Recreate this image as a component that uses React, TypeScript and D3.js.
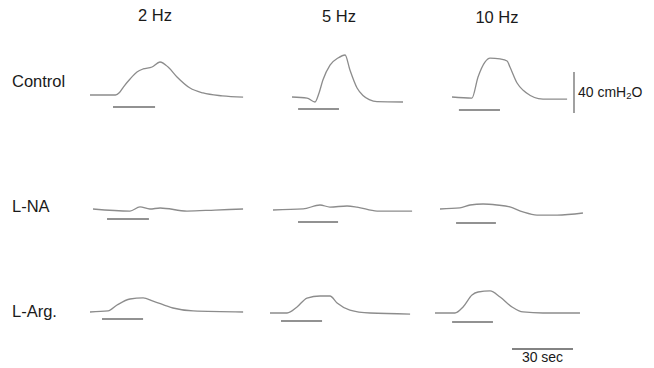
import * as d3 from "d3";

type Pt = [number, number]; // [seconds, cmH2O above baseline]

const frequencies = ["2 Hz", "5 Hz", "10 Hz"];
const conditions = ["Control", "L-NA", "L-Arg."];

// pressure traces
const control2: Pt[] = [[0, 0], [12.5, 0], [14.5, 2.5], [16.5, 8], [19.7, 15.6], [23.1, 22.4], [26.1, 25.4], [30.5, 27.3], [34.4, 32.2], [38.4, 27.3], [42.8, 17.6], [49.2, 6.8], [55.6, 2], [65, -0.8], [75.3, -2]];
const control5: Pt[] = [[0, 0], [7.4, -1], [11.3, -4.9], [13.3, 3.9], [15.2, 16.6], [18.7, 31.2], [22.6, 38], [26.1, 41], [28.5, 26.3], [32, 8.8], [34.9, 1.5], [38, -2.5], [41.8, -4.6], [54.6, -4.9]];
const control10: Pt[] = [[0, 0], [9.8, -1], [12.8, 19.5], [16.2, 34.1], [18.7, 38], [23.6, 37.1], [27.1, 35.1], [28.5, 29.3], [32, 13.7], [35, 6.5], [38.5, 1.5], [42.5, -1.5], [47, -2], [56.6, -2]];
const lna2: Pt[] = [[0, 0], [18.2, -2], [23.1, 2], [28, 0], [33, 1], [46.2, -2], [60, -1], [73.8, 0]];
const lna5: Pt[] = [[0, 0], [14.8, 1], [23.1, 4.9], [28, 2.9], [36.4, 3.9], [41.3, 2.9], [51.2, -1], [68.4, -1]];
const lna10: Pt[] = [[0, 0], [9.8, 1], [14.8, 3.9], [21.2, 4.9], [28, 3.9], [34.4, 2], [40.8, -2.9], [47.7, -5.9], [57.6, -5.9], [70.3, -3.9]];
const larg2: Pt[] = [[0, 0], [8.9, 1], [13.3, 6.8], [19.7, 12.7], [26.1, 13.7], [31, 10.7], [40.8, 3.9], [50.7, 1], [75.3, 0]];
const larg5: Pt[] = [[0, 0], [8.4, 0], [13.3, 5.9], [18.2, 14.6], [24.6, 16.6], [29.5, 16.6], [33, 9.8], [39.3, 2.9], [49.2, 0], [68.9, -1]];
const larg10: Pt[] = [[0, 0], [9.8, 0], [13.8, 5.9], [18.2, 17.6], [21.2, 20.5], [27.1, 21.5], [32, 15.6], [37.9, 5.9], [43.3, 1], [53.1, 0], [71.3, 0]];

// stimulation periods [start, end] in seconds
const controlStim: Pt[] = [[11.3, 32], [3, 23.1], [3.4, 23.6]];
const lnaStim: Pt[] = [[6.9, 27.5], [12.3, 32], [7.9, 27.5]];
const largStim: Pt[] = [[5.9, 26.1], [5.4, 25.6], [8.4, 28.5]];

const traces = [
  [control2, control5, control10],
  [lna2, lna5, lna10],
  [larg2, larg5, larg10],
];
const stims = [controlStim, lnaStim, largStim];

const TIME_BAR = 30; // sec
const PRESSURE_BAR = 40; // cmH2O

// layout
const PX_PER_SEC = 61 / 30;
const PX_PER_CM = 41 / 40;
const colX = [[90, 292, 452], [93, 273, 440], [90, 270, 435]];
const rowBase = [[95, 97, 97], [209, 210, 209], [312, 313, 313]];
const stimDrop = [[12, 12, 13], [10, 12, 14], [7, 8, 9]];
const rowLabelY = [83, 208, 313];
const colLabelX = [155, 339, 497];
const colLabelY = [17, 18, 19];

function xScaleFor(x0: number) {
  return d3.scaleLinear().domain([0, 30]).range([x0, x0 + 30 * PX_PER_SEC]);
}
function yScaleFor(base: number) {
  return d3.scaleLinear().domain([0, 40]).range([base, base - 40 * PX_PER_CM]);
}

export default function App() {
  const font = "'Liberation Sans', Arial, sans-serif";
  const panels: JSX.Element[] = [];

  traces.forEach((row, r) => {
    row.forEach((data, c) => {
      const x = xScaleFor(colX[r][c]);
      const y = yScaleFor(rowBase[r][c]);
      const line = d3
        .line<Pt>()
        .x((d) => x(d[0]))
        .y((d) => y(d[1]))
        .curve(d3.curveMonotoneX);
      const [s0, s1] = stims[r][c];
      const sy = rowBase[r][c] + stimDrop[r][c];
      panels.push(
        <g key={`${r}-${c}`}>
          <path d={line(data) ?? ""} fill="none" stroke="#8c8c8c" strokeWidth={1.3} />
          <line x1={x(s0)} x2={x(s1)} y1={sy} y2={sy} stroke="#6e6e6e" strokeWidth={1.6} />
        </g>,
      );
    });
  });

  const tx = xScaleFor(512);
  const py = yScaleFor(113);

  return (
    <svg
      width={654}
      height={368}
      style={{ position: "absolute", left: 0, top: 0, background: "#fff" }}
      fontFamily={font}
    >
      <rect width={654} height={368} fill="#fff" />
      {frequencies.map((f, i) => (
        <text key={f} x={colLabelX[i]} y={colLabelY[i]} fontSize={16.5} textAnchor="middle" dominantBaseline="middle" fill="#1a1a1a">
          {f}
        </text>
      ))}
      {conditions.map((c, i) => (
        <text key={c} x={12} y={rowLabelY[i]} fontSize={16.5} dominantBaseline="middle" fill="#1a1a1a">
          {c}
        </text>
      ))}
      {panels}
      {/* pressure scale bar */}
      <line x1={574} x2={574} y1={py(0)} y2={py(PRESSURE_BAR)} stroke="#6e6e6e" strokeWidth={1.3} />
      <text x={578} y={93} fontSize={14} dominantBaseline="middle" fill="#1a1a1a">
        {`${PRESSURE_BAR} cmH`}
        <tspan fontSize={9.5} dy={3}>2</tspan>
        <tspan dy={-3}>O</tspan>
      </text>
      {/* time scale bar */}
      <line x1={tx(0)} x2={tx(TIME_BAR)} y1={349} y2={349} stroke="#5a5a5a" strokeWidth={1.4} />
      <text x={(tx(0) + tx(TIME_BAR)) / 2} y={358} fontSize={14} textAnchor="middle" dominantBaseline="middle" fill="#1a1a1a">
        {`${TIME_BAR} sec`}
      </text>
    </svg>
  );
}
